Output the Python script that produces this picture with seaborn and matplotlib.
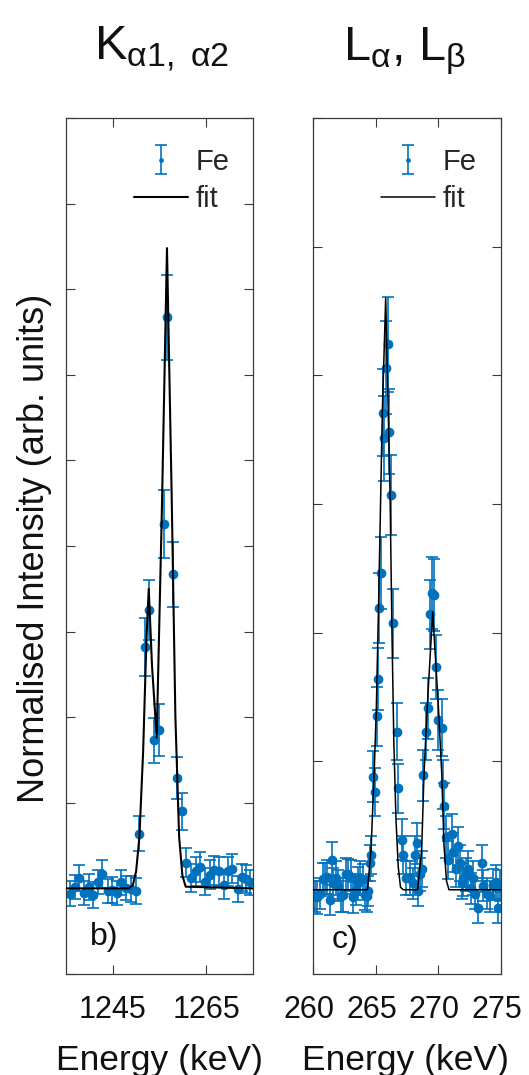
import matplotlib
matplotlib.use("Agg")
import matplotlib.pyplot as plt
import matplotlib.transforms as mtransforms
import seaborn as sns
import pandas as pd

# ---------------- data ----------------
# K-alpha doublet (panel b)
k_energy = [1235.9, 1236.9, 1237.8, 1238.8, 1240.0,
            1240.8, 1241.9, 1242.8, 1243.9, 1244.9,
            1245.9, 1246.8, 1247.9, 1249.0, 1249.9,
            1250.7, 1251.8, 1252.7, 1253.8, 1254.9,
            1255.9, 1256.6, 1257.8, 1258.7, 1259.8,
            1260.7, 1261.7, 1262.8, 1263.7, 1264.7,
            1265.8, 1266.7, 1267.8, 1268.7, 1269.7,
            1270.6, 1271.7, 1272.7, 1273.6, 1274.3]
k_value = [-0.06, 0.02, 0.12, -0.05, 0.02,
           -0.08, 0.07, 0.17, -0.03, -0.02,
           -0.05, 0.07, 0.00, -0.01, -0.03,
           0.64, 2.82, 3.25, 1.73, 1.85,
           4.26, 6.67, 3.67, 1.29, 0.90,
           0.30, 0.12, 0.20, 0.25, 0.08,
           0.16, 0.21, 0.20, 0.04, 0.20,
           0.23, -0.01, 0.13, 0.11, 0.07]
k_error = [0.15, 0.14, 0.15, 0.14, 0.15,
           0.15, 0.14, 0.16, 0.14, 0.15,
           0.14, 0.15, 0.14, 0.15, 0.15,
           0.20, 0.34, 0.35, 0.26, 0.30,
           0.40, 0.50, 0.38, 0.24, 0.22,
           0.17, 0.16, 0.17, 0.17, 0.16,
           0.17, 0.17, 0.17, 0.16, 0.17,
           0.17, 0.15, 0.16, 0.16, 0.15]
k_fit_energy = [1235.0, 1248.5, 1249.3, 1250.0, 1250.7, 1251.5, 1252.2, 1252.7,
                1253.4, 1254.4, 1255.5, 1256.6, 1257.6, 1258.4, 1259.2, 1259.9,
                1260.6, 1275.0]
k_fit_value = [0.00, 0.00, 0.04, 0.20, 0.60, 1.60, 2.90, 3.50,
               2.60, 1.76, 4.40, 7.48, 4.60, 2.00, 0.60, 0.15,
               0.02, 0.00]

# L-alpha / L-beta lines (panel c)
l_energy = [260.16, 260.35, 260.56, 260.77, 260.96,
            261.14, 261.36, 261.49, 261.62, 261.84,
            262.02, 262.21, 262.42, 262.63, 262.82,
            263.01, 263.22, 263.43, 263.62, 263.75,
            263.97, 264.15, 264.29, 264.41, 264.55,
            264.63, 264.76, 264.95, 265.08, 265.16,
            265.27, 265.43, 265.56, 265.69, 265.83,
            266.01, 266.09, 266.22, 266.41, 266.68,
            266.81, 267.08, 267.21, 267.42, 267.74,
            268.00, 268.14, 268.28, 268.40, 268.54,
            268.68, 268.80, 269.02, 269.20, 269.34,
            269.47, 269.66, 269.82, 270.00, 270.27,
            270.35, 270.45, 270.59, 270.75, 271.07,
            271.20, 271.41, 271.60, 271.73, 271.87,
            272.00, 272.19, 272.39, 272.59, 272.79,
            272.93, 273.19, 273.46, 273.59, 273.86,
            274.13, 274.34, 274.60, 274.79, 274.92]
l_value = [-0.05, -0.06, -0.03, 0.08, 0.09,
           0.10, -0.08, 0.23, 0.05, 0.09,
           0.03, -0.05, -0.04, 0.12, 0.12,
           0.10, -0.06, 0.00, 0.05, 0.09,
           0.08, -0.04, -0.05, -0.01, 0.21,
           0.27, 0.88, 0.76, 1.35, 1.64,
           2.19, 2.46, 3.71, 3.51, 4.06,
           4.24, 3.56, 3.07, 2.07, 1.23,
           0.79, 0.39, 0.27, 0.09, 0.09,
           0.05, 0.27, 0.36, -0.01, 0.12,
           0.16, 0.89, 1.23, 1.41, 2.14,
           2.31, 2.29, 1.73, 1.32, 1.26,
           0.82, 0.65, 0.41, 0.23, 0.43,
           0.29, 0.16, 0.34, 0.21, 0.05,
           0.08, 0.12, 0.16, 0.01, 0.09,
           -0.03, -0.14, 0.21, 0.03, -0.03,
           -0.05, 0.04, 0.06, -0.14, 0.03]
l_error = [0.12, 0.13, 0.12, 0.13, 0.12,
           0.13, 0.12, 0.14, 0.12, 0.13,
           0.12, 0.12, 0.13, 0.13, 0.12,
           0.13, 0.12, 0.12, 0.13, 0.13,
           0.12, 0.12, 0.12, 0.12, 0.14,
           0.15, 0.20, 0.19, 0.23, 0.24,
           0.27, 0.28, 0.34, 0.33, 0.36,
           0.37, 0.33, 0.31, 0.27, 0.22,
           0.19, 0.16, 0.15, 0.13, 0.13,
           0.12, 0.15, 0.16, 0.12, 0.13,
           0.14, 0.20, 0.22, 0.24, 0.27,
           0.28, 0.28, 0.25, 0.23, 0.22,
           0.19, 0.18, 0.16, 0.15, 0.16,
           0.15, 0.14, 0.15, 0.14, 0.12,
           0.13, 0.13, 0.14, 0.12, 0.13,
           0.12, 0.12, 0.14, 0.12, 0.12,
           0.12, 0.12, 0.13, 0.12, 0.12]
l_fit_energy = [260.0, 264.35, 264.63, 264.87, 265.05, 265.25, 265.53, 265.80,
                266.15, 266.30, 266.45, 266.62, 266.80, 266.98, 267.20,
                268.35, 268.67, 268.86, 269.12, 269.55, 270.00, 270.27,
                270.45, 270.65, 270.85, 275.0]
l_fit_value = [0.00, 0.00, 0.31, 0.88, 1.40, 2.30, 3.71, 4.60,
               3.07, 2.00, 1.15, 0.55, 0.18, 0.02, 0.00,
               0.00, 0.31, 0.91, 1.43, 2.16, 1.43, 0.91,
               0.35, 0.07, 0.00, 0.00]

# ---------------- style ----------------
sns.set_theme(style="white")
plt.rcParams["font.family"] = ["Liberation Sans", "DejaVu Sans"]
plt.rcParams["mathtext.fontset"] = "custom"
plt.rcParams["mathtext.rm"] = "Liberation Sans"
plt.rcParams["mathtext.it"] = "Liberation Sans:italic"
plt.rcParams["mathtext.bf"] = "Liberation Sans:bold"

BLUE = "#0072BD"
FRAME = "#3a3a3a"
TEXT = "#111111"
W, H = 529, 1075

fig = plt.figure(figsize=(W / 100, H / 100), dpi=100)


def px_axes(x0, x1, y0, y1):
    return fig.add_axes([x0 / W, 1 - y1 / H, (x1 - x0) / W, (y1 - y0) / H])


ax_k = px_axes(66, 253, 118, 974)
ax_l = px_axes(313, 501, 118, 974)


def draw_panel(ax, energy, value, error, fit_e, fit_v, xlim, xticks, xticklabels,
               ylim, yticks, fit_lw, tag, tag_xy, legend_xy):
    data_handle = ax.errorbar(energy, value, yerr=error, fmt="o", color=BLUE,
                              ms=6.0, mec=BLUE, elinewidth=1.2, capsize=4.5,
                              capthick=1.2, label="Fe", zorder=2)
    fit_df = pd.DataFrame({"energy": fit_e, "fit": fit_v})
    sns.lineplot(data=fit_df, x="energy", y="fit", ax=ax, color="black",
                 lw=fit_lw, sort=False, estimator=None, label="fit", zorder=3)
    fit_handle = ax.get_lines()[-1]
    ax.set_xlim(*xlim)
    ax.set_ylim(*ylim)
    ax.set_xticks(xticks)
    ax.set_xticklabels(xticklabels)
    ax.set_yticks(yticks)
    ax.set_xlabel("")
    ax.set_ylabel("")
    ax.tick_params(axis="both", direction="in", length=6.5, width=0.8,
                   color=FRAME, top=True, bottom=True, left=True, right=True,
                   labelleft=False, labelsize=22, pad=15, labelcolor=TEXT)
    for sp in ax.spines.values():
        sp.set_color(FRAME)
        sp.set_linewidth(0.9)
    ax.text(tag_xy[0], tag_xy[1], tag, transform=ax.transAxes, fontsize=23,
            ha="left", va="baseline", color=TEXT)
    ax.legend([data_handle, fit_handle], ["Fe", "fit"], loc="upper left",
              bbox_to_anchor=legend_xy, frameon=False, fontsize=21,
              handlelength=1.85, handletextpad=0.25, labelspacing=0.3,
              borderpad=0, borderaxespad=0, markerscale=0.4)


draw_panel(ax_k, k_energy, k_value, k_error, k_fit_energy, k_fit_value,
           (1235, 1275), [1245, 1265], ["1245", "1265"],
           (-1, 9), list(range(-1, 10)), 1.5, "b)", (0.128, 0.034), (0.364, 0.965))
draw_panel(ax_l, l_energy, l_value, l_error, l_fit_energy, l_fit_value,
           (260, 275), [260, 265, 270, 275], ["260", "265", "270", "275"],
           (-0.655, 6), list(range(0, 7)), 1.1, "c)", (0.10, 0.030), (0.362, 0.965))

# the energy labels of panel c sit slightly left of their ticks
shift = mtransforms.ScaledTranslation(-4 / 100, 0, fig.dpi_scale_trans)
for lab in ax_l.get_xticklabels():
    lab.set_transform(lab.get_transform() + shift)

# panel titles
fig.text(162 / W, 1 - 60 / H, r"K$_{\mathrm{\alpha1,\ \alpha2}}$", fontsize=35,
         ha="center", va="baseline", color=TEXT)
fig.text(405 / W, 1 - 60 / H, r"L$_{\mathrm{\alpha}}$, L$_{\mathrm{\beta}}$", fontsize=35,
         ha="center", va="baseline", color=TEXT)

# axis labels
fig.text(35 / W, 1 - 548 / H, "Normalised Intensity (arb. units)", fontsize=26,
         rotation=90, ha="center", va="center", color=TEXT)
fig.text(160 / W, 1 - 1070 / H, "Energy (keV)", fontsize=25.5,
         ha="center", va="baseline", color=TEXT)
fig.text(406 / W, 1 - 1070 / H, "Energy (keV)", fontsize=25.5,
         ha="center", va="baseline", color=TEXT)

fig.savefig("out.png", dpi=100)
